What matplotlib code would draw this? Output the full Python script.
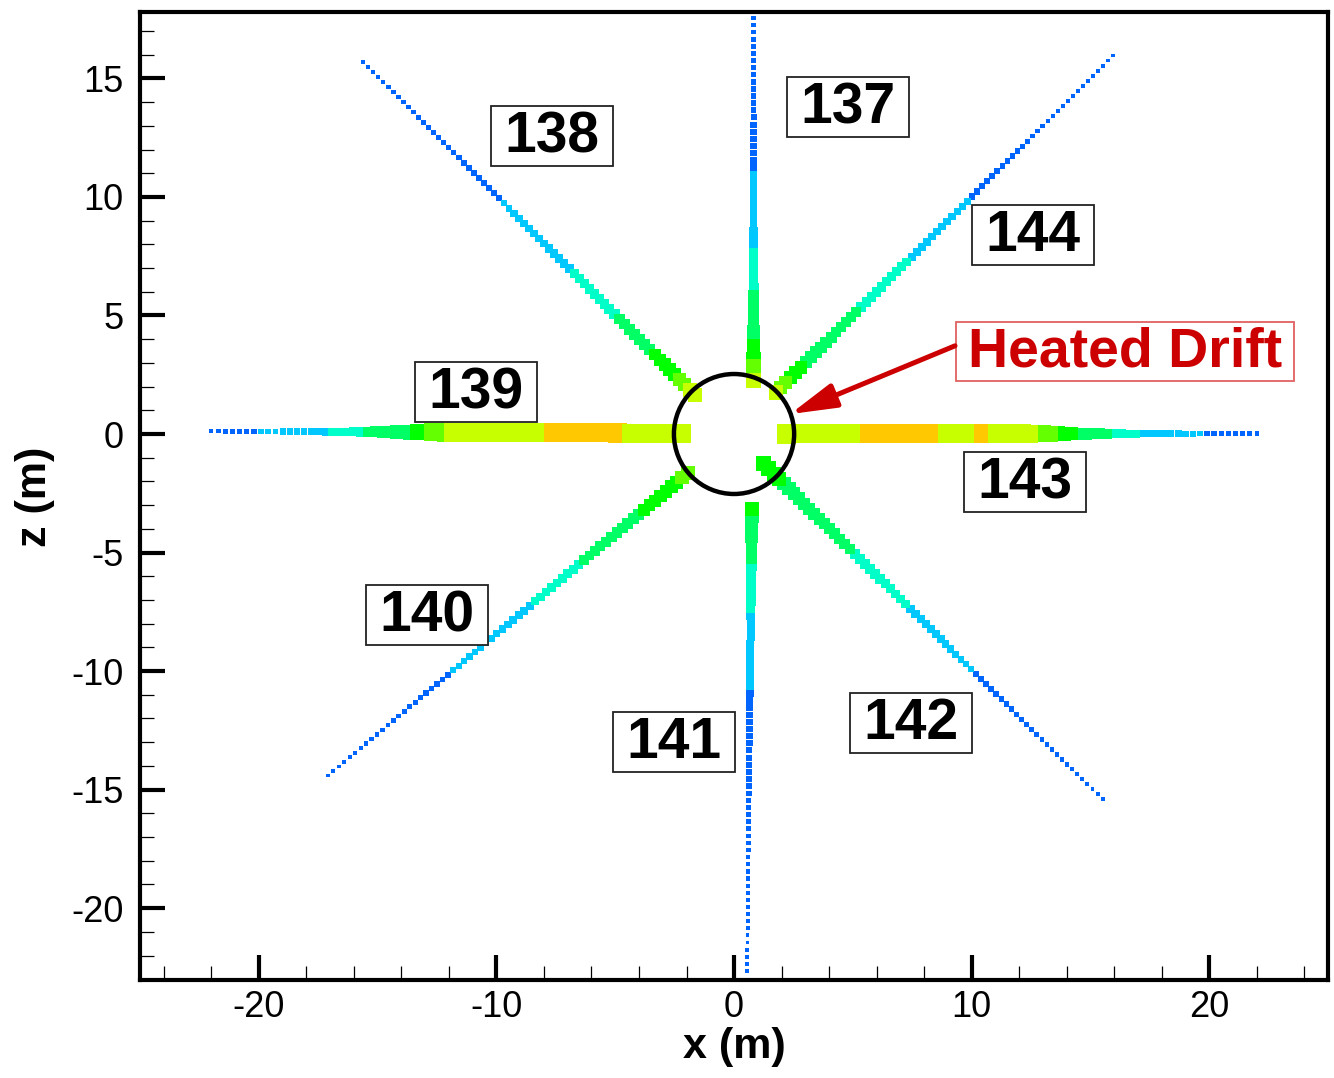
import numpy as np
import matplotlib
matplotlib.use("Agg")
import matplotlib.pyplot as plt
from matplotlib.patches import Circle, Rectangle, FancyArrowPatch
from matplotlib.ticker import MultipleLocator

plt.rcParams["font.family"] = ["Liberation Sans", "DejaVu Sans"]
plt.rcParams["axes.unicode_minus"] = False

# contour level colours (low -> high)
LEVEL_COLORS = ["#0064FF", "#00C8FF", "#00FFC8", "#00FF64",
                "#00FF00", "#64FF00", "#C8FF00", "#FFC800"]

# boreholes: id, near end, far end (x, z in m)
BH_IDS  = ["137", "138", "139", "140", "141", "142", "143", "144"]
BH_NEAR = [(0.82, 2.25), (-1.65, 1.65), (-2.2, 0.03), (-1.95, -1.65),
           (0.75, -3.15), (1.25, -1.25), (2.2, 0.0), (1.75, 1.75)]
BH_FAR  = [(0.82, 17.9), (-15.7, 15.8), (-22.2, 0.12), (-17.2, -14.5),
           (0.55, -22.8), (15.6, -15.5), (22.2, 0.02), (16.1, 16.1)]
BH_KIND = ["v", "d", "h", "d", "v", "d", "h", "d"]

# radial distance where the colour level changes, and the level in between
BH_EDGES = [
    [0.0, 2.6, 3.0, 3.9, 6.0, 7.8, 11.1, 30],
    [0.0, 2.8, 3.3, 4.9, 7.0, 9.8, 13.8, 30],
    [0.0, 4.6, 7.9, 11.9, 12.8, 13.5, 15.6, 17.1, 20.1, 30],
    [0.0, 2.9, 5.1, 8.4, 11.2, 15.5, 30],
    [0.0, 3.3, 5.4, 7.5, 10.9, 30],
    [0.0, 2.9, 7.1, 10.4, 14.3, 30],
    [0.0, 5.0, 8.3, 9.8, 10.4, 12.5, 13.5, 14.2, 15.7, 17.1, 19.6, 30],
    [0.0, 2.6, 3.1, 4.1, 7.5, 10.55, 13.9, 30],
]
BH_LEVELS = [
    [6, 5, 4, 3, 2, 1, 0],
    [6, 5, 4, 3, 2, 1, 0],
    [6, 7, 6, 5, 4, 3, 2, 1, 0],
    [5, 4, 3, 2, 1, 0],
    [4, 3, 2, 1, 0],
    [4, 3, 2, 1, 0],
    [6, 7, 6, 7, 6, 5, 4, 3, 2, 1, 0],
    [6, 5, 4, 3, 2, 1, 0],
]

LABEL_POS = [(4.8, 13.8), (-7.66, 12.57), (-10.86, 1.77), (-12.93, -7.63),
             (-2.53, -12.99), (7.45, -12.19), (12.25, -2.02), (12.59, 8.39)]

DRIFT_RADIUS = 2.53

# cell size (m) against radial distance, per borehole orientation
WIDTH_R = {"h": [2, 12, 13.2, 14.5, 16.3, 18.5, 21, 23],
           "d": [2, 3, 6, 10, 14, 18, 23],
           "v": [2, 4, 6, 8, 11, 14, 18, 23]}
WIDTH_W = {"h": [0.80, 0.80, 0.68, 0.52, 0.36, 0.27, 0.2, 0.17],
           "d": [0.62, 0.56, 0.45, 0.36, 0.28, 0.2, 0.15],
           "v": [0.68, 0.54, 0.43, 0.35, 0.30, 0.24, 0.18, 0.15]}
STEP = 0.3

fig = plt.figure(figsize=(13.34, 10.78), dpi=100)
ax = fig.add_axes([0.10495, 0.09091, 0.8906, 0.89796])
ax.set_xlim(-25, 25)
ax.set_ylim(-23.03, 17.8)

px_per_m = 1188 / 50.0
pt_per_m = px_per_m * 72 / fig.dpi

for i, bid in enumerate(BH_IDS):
    near = np.array(BH_NEAR[i])
    far = np.array(BH_FAR[i])
    length = np.hypot(*(far - near))
    t = np.arange(0, length + 1e-6, STEP)[::-1]
    pts = near + np.outer(t / length, far - near)
    r = np.hypot(pts[:, 0], pts[:, 1])
    idx = np.clip(np.searchsorted(BH_EDGES[i], r, side="right") - 1,
                  0, len(BH_LEVELS[i]) - 1)
    cols = [LEVEL_COLORS[BH_LEVELS[i][k]] for k in idx]
    w = np.interp(r, WIDTH_R[BH_KIND[i]], WIDTH_W[BH_KIND[i]])
    ax.scatter(pts[:, 0], pts[:, 1], s=(w * pt_per_m) ** 2, c=cols,
               marker="s", linewidths=0, zorder=2)

ax.add_patch(Circle((0, 0), DRIFT_RADIUS, fill=False, ec="black",
                    lw=3.2, zorder=4))

# borehole labels
box_w, box_h = 122 / px_per_m, 60 / 23.71
for bid, (lx, lz) in zip(BH_IDS, LABEL_POS):
    ax.add_patch(Rectangle((lx - box_w / 2, lz - box_h / 2), box_w, box_h,
                           fc="white", ec="#222222", lw=1.3, zorder=5))
    ax.text(lx, lz - 0.05, bid, fontsize=41, fontweight="bold",
            ha="center", va="center", zorder=6)

# heated drift callout
RED = "#CC0000"
hx, hz = 16.46, 3.48
hw, hh = 338 / px_per_m, 59 / 23.71
ax.add_patch(Rectangle((hx - hw / 2, hz - hh / 2), hw, hh,
                       fc="white", ec="#E06060", lw=1.3, zorder=5))
ax.text(hx, hz - 0.05, "Heated Drift", fontsize=40, fontweight="bold",
        color=RED, ha="center", va="center", zorder=6)
arrow = FancyArrowPatch((9.3, 3.72), (2.36, 0.84),
                        arrowstyle="-|>,head_length=2.8,head_width=0.75",
                        mutation_scale=10, color=RED, lw=3.6,
                        shrinkA=0, shrinkB=0, zorder=6)
ax.add_patch(arrow)

# axes styling
for side in ["left", "bottom", "right", "top"]:
    ax.spines[side].set_linewidth(3)
ax.xaxis.set_major_locator(MultipleLocator(10))
ax.xaxis.set_minor_locator(MultipleLocator(2))
ax.yaxis.set_major_locator(MultipleLocator(5))
ax.yaxis.set_minor_locator(MultipleLocator(1))
ax.tick_params(which="both", direction="in", top=False, right=False)
ax.tick_params(which="major", length=18, width=3, labelsize=26)
ax.tick_params(which="minor", length=10, width=0.9)
ax.tick_params(axis="x", which="major", pad=7)
ax.tick_params(axis="y", which="major", pad=12)

fig.text(734 / 1334, 1 - 1047 / 1078, "x (m)", fontsize=31,
         fontweight="bold", ha="center", va="center")
fig.text(35 / 1334, 1 - 497 / 1078, "z (m)", fontsize=31,
         fontweight="bold", ha="center", va="center", rotation=90)

fig.savefig("out.png", dpi=100, facecolor="white")
